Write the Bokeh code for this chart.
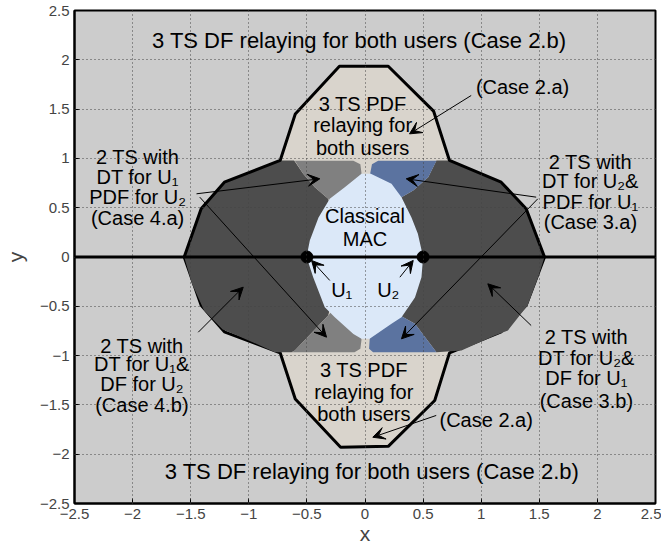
from bokeh.plotting import figure
from bokeh.models import (ColumnDataSource, FixedTicker, CustomJSTickFormatter,
                          Arrow, VeeHead, Span)
from bokeh.core.properties import value
from bokeh.embed import file_html
from bokeh.resources import INLINE

# ---------------- data ----------------
TICKS = [-2.5, -2.0, -1.5, -1.0, -0.5, 0.0, 0.5, 1.0, 1.5, 2.0, 2.5]

# 3 TS PDF relaying region (Case 2.a)
pdf_x = [-0.73, -0.60, -0.22, 0.20, 0.59, 0.727, 0.60, 0.727, 0.60, 0.20, -0.21, -0.60, -0.73, -0.60]
pdf_y = [0.979, 1.45, 1.935, 1.935, 1.48, 0.979, 0.0, -0.972, -1.455, -1.92, -1.93, -1.44, -0.972, 0.0]

# 2 TS regions (dark)
dt_left_x = [-0.73, -1.21, -1.41, -1.556, -1.49, -1.385, -1.225, -1.09, -0.776, -0.632,
             -0.604, -0.317, -0.25, -0.25, -0.317, -0.432, -0.532, -0.61]
dt_left_y = [0.979, 0.759, 0.489, 0.0, -0.27, -0.543, -0.735, -0.80, -0.965, -0.965,
             -0.948, -0.593, -0.3, 0.3, 0.59, 0.708, 0.844, 0.979]
dt_right_x = [0.727, 1.172, 1.387, 1.545, 1.49, 1.40, 1.23, 1.117, 0.83, 0.615,
              0.43, 0.314, 0.28, 0.28, 0.314, 0.415, 0.544, 0.615]
dt_right_y = [0.979, 0.759, 0.489, 0.0, -0.205, -0.49, -0.745, -0.796, -0.948, -0.965,
              -0.678, -0.6, -0.3, 0.3, 0.607, 0.675, 0.81, 0.979]

# 2 TS with DT for U1, PDF for U2 (Case 4.a) - medium gray
c4_up_x = [-0.604, -0.10, -0.04, -0.03, -0.05, -0.25, -0.317, -0.432, -0.532]
c4_up_y = [0.977, 0.977, 0.94, 0.85, 0.70, 0.50, 0.59, 0.708, 0.844]
c4_lo_x = [-0.317, -0.604, -0.63, -0.09, -0.04, -0.03, -0.05, -0.25]
c4_lo_y = [-0.593, -0.948, -0.965, -0.965, -0.93, -0.84, -0.70, -0.50]

# 2 TS with DT for U2, PDF for U1 (Case 3.a) - steel blue
c3_up_x = [0.113, 0.615, 0.544, 0.415, 0.314, 0.25, 0.05, 0.045, 0.06]
c3_up_y = [0.977, 0.977, 0.81, 0.675, 0.607, 0.50, 0.70, 0.85, 0.94]
c3_lo_x = [0.07, 0.615, 0.43, 0.314, 0.25, 0.05, 0.04, 0.035]
c3_lo_y = [-0.965, -0.965, -0.678, -0.60, -0.50, -0.70, -0.84, -0.93]

# Classical MAC
mac_x = [-0.503, -0.475, -0.40, -0.303, -0.174, -0.03, 0.05, 0.228, 0.314, 0.40, 0.455, 0.50,
         0.486, 0.43, 0.314, 0.228, 0.04, -0.03, -0.10, -0.26, -0.346, -0.446]
mac_y = [0.0, 0.167, 0.40, 0.59, 0.708, 0.845, 0.845, 0.742, 0.607, 0.40, 0.235, 0.0,
         -0.205, -0.41, -0.61, -0.678, -0.83, -0.83, -0.78, -0.61, -0.51, -0.205]

# outer boundary (thick line)
upper_x = [-1.556, -1.41, -1.21, -0.73, -0.60, -0.22, 0.20, 0.59, 0.727, 1.172, 1.387, 1.545]
upper_y = [0.0, 0.489, 0.759, 0.979, 1.45, 1.935, 1.935, 1.48, 0.979, 0.759, 0.489, 0.0]
lower_x = [-1.556, -1.41, -1.21, -0.73, -0.60, -0.21, 0.20, 0.60, 0.727, 1.172, 1.387, 1.545]
lower_y = [0.0, -0.489, -0.759, -0.972, -1.44, -1.93, -1.92, -1.455, -0.972, -0.759, -0.489, 0.0]

# users
users_x = [-0.5, 0.5]
users_y = [0.0, 0.0]

# wide titles of the outer region
title_text = ["3 TS DF relaying for both users (Case 2.b)",
              "3 TS DF relaying for both users (Case 2.b)"]
title_x = [-0.05, 0.06]
title_y = [2.2, -2.18]

# other text lines
label_text = [
    "3 TS PDF", "relaying for", "both users",
    "3 TS PDF", "relaying for", "both users",
    "(Case 2.a)", "(Case 2.a)",
    "Classical", "MAC",
    "U\u2081", "U\u2082",
    "2 TS with", "DT for U\u2081", "PDF for U\u2082", "(Case 4.a)",
    "2 TS with", "DT for U\u2082&", "PDF for U\u2081", "(Case 3.a)",
    "2 TS with", "DT for U\u2081&", "DF for U\u2082", "(Case 4.b)",
    "2 TS with", "DT for U\u2082&", "DF for U\u2081", "(Case 3.b)",
]
label_x = [-0.02, -0.02, -0.02,
           -0.01, -0.01, -0.01,
           1.356, 1.043,
           0.0, 0.0,
           -0.20, 0.20,
           -1.957, -1.957, -1.957, -1.957,
           1.94, 1.94, 1.94, 1.94,
           -1.92, -1.92, -1.92, -1.92,
           1.905, 1.905, 1.905, 1.905]
label_y = [1.55, 1.34, 1.11,
           -1.15, -1.37, -1.595,
           1.72, -1.65,
           0.42, 0.18,
           -0.33, -0.33,
           1.01, 0.81, 0.61, 0.40,
           0.96, 0.77, 0.56, 0.35,
           -0.90, -1.09, -1.29, -1.50,
           -0.81, -1.02, -1.23, -1.46]

# arrows
arrow_x0 = [0.914, 0.613, -0.303, 0.30, -1.45, -1.422, 1.473, 1.487, -1.435, 1.43]
arrow_y0 = [1.638, -1.607, -0.238, -0.205, 0.641, 0.607, 0.607, 0.59, -0.763, -0.695]
arrow_x1 = [0.383, 0.067, -0.46, 0.415, -0.389, -0.331, 0.355, 0.314, -1.048, 1.057]
arrow_y1 = [1.249, -1.828, -0.035, -0.035, 0.793, -0.813, 0.793, -0.83, -0.306, -0.272]

# ---------------- figure ----------------
FONT = "Liberation Sans"
p = figure(x_range=(-2.5, 2.5), y_range=(-2.5, 2.5),
           frame_width=581, frame_height=493,
           output_backend="svg", toolbar_location=None,
           min_border_left=63, min_border_top=10, min_border_right=6,
           background_fill_color="#cccccc", border_fill_color="white",
           x_axis_label="x", y_axis_label="y")

p.patch(pdf_x, pdf_y, fill_color="#d9d4cc", line_color=None)
p.line(lower_x, lower_y, line_color="black", line_width=3)
p.patches([dt_left_x, dt_right_x], [dt_left_y, dt_right_y], fill_color="#4d4d4d", line_color=None)
p.patches([c4_up_x, c4_lo_x], [c4_up_y, c4_lo_y], fill_color="#808080", line_color=None)
p.patches([c3_up_x, c3_lo_x], [c3_up_y, c3_lo_y], fill_color="#5b73a0", line_color=None)
p.patch(mac_x, mac_y, fill_color="#dbe8f8", line_color=None)
p.line(upper_x, upper_y, line_color="black", line_width=3)
p.add_layout(Span(location=0, dimension="width", line_color="black", line_width=3))
p.scatter(users_x, users_y, size=12, marker="circle", fill_color="black", line_color="black")

tsrc = ColumnDataSource(dict(x=title_x, y=title_y, text=title_text))
p.text(x="x", y="y", text="text", source=tsrc, text_font=value(FONT),
       text_font_size=value("22px"), text_align="center", text_baseline="middle",
       text_color="black")

src = ColumnDataSource(dict(x=label_x, y=label_y, text=label_text))
p.text(x="x", y="y", text="text", source=src, text_font=value(FONT),
       text_font_size=value("20px"), text_align="center", text_baseline="middle",
       text_color="black")

for x0, y0, x1, y1 in zip(arrow_x0, arrow_y0, arrow_x1, arrow_y1):
    p.add_layout(Arrow(end=VeeHead(size=12, fill_color="black", line_color="black"),
                       x_start=x0, y_start=y0, x_end=x1, y_end=y1,
                       line_color="black", line_width=1))

# grid
p.grid.level = "annotation"
p.grid.grid_line_color = "#444444"
p.grid.grid_line_dash = "1 3"
p.grid.grid_line_width = 1

# axes
fmt = CustomJSTickFormatter(code="return (Math.round(tick*10)/10).toString().replace('-', '\\u2212');")
for ax in (p.xaxis[0], p.yaxis[0]):
    ax.ticker = FixedTicker(ticks=TICKS)
    ax.formatter = fmt
    ax.axis_line_width = 2
    ax.major_tick_in = 5
    ax.major_tick_out = 0
    ax.minor_tick_line_color = None
    ax.major_label_text_font = FONT
    ax.major_label_text_font_size = "15px"
    ax.axis_label_text_font = FONT
    ax.axis_label_text_font_size = "21px"
    ax.axis_label_text_font_style = "normal"
p.xaxis.major_label_standoff = 5
p.xaxis.axis_label_standoff = 0
p.yaxis.major_label_standoff = 5
p.yaxis.axis_label_standoff = 10

p.outline_line_color = "black"
p.outline_line_width = 2
p.outline_line_alpha = 1

open("out.html", "w").write(file_html(p, INLINE))
